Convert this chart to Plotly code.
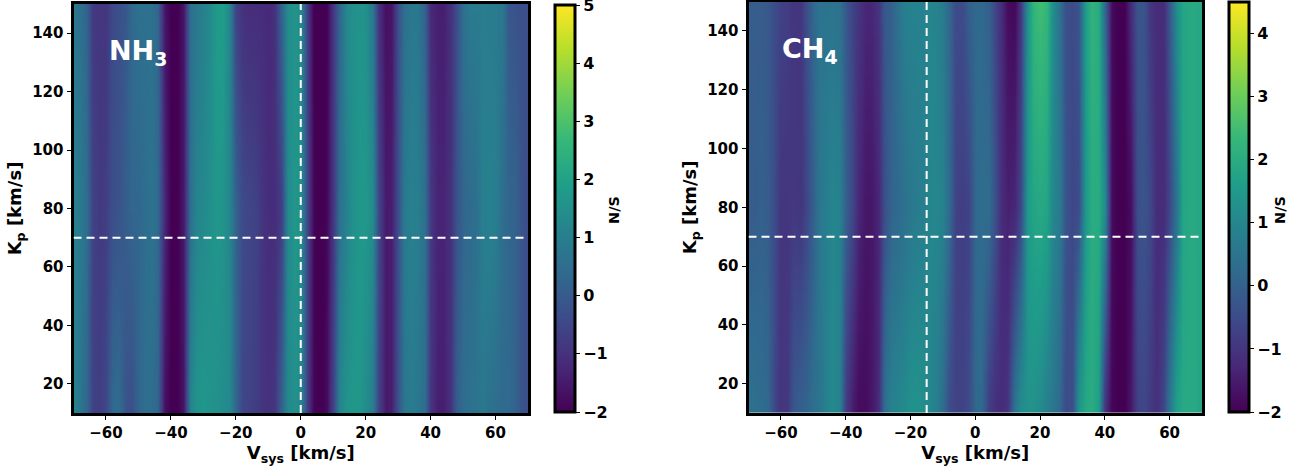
import plotly.graph_objects as go

# Cross-correlation S/N maps in the (Vsys, Kp) plane
VSYS = list(range(-70, 71, 2))          # km/s
KP_ROWS = [10, 80, 150]                 # km/s

NH3_KP10 = [1.1, 0.8, 0.3, -0.6, -0.7, -0.5, 0.4, 0.5, -0.2, -0.3,
            0.3, 0.5, 0.5, 0.3, -1.7, -2.0, -2.0, -1.6, 1.2, 1.6,
            1.7, 1.6, 1.5, 1.4, 1.3, 0.3, -0.5, -0.6, -0.7, -0.9,
            -1.0, -0.9, 0.2, 1.3, 1.5, 1.3, -0.8, -1.9, -2.1, -1.8,
            -0.5, 1.2, 1.6, 1.7, 1.7, 1.4, 1.0, -0.6, -1.5, -1.4,
            -0.1, 0.8, 0.9, 0.8, 0.5, -0.9, -1.4, -1.4, -1.0, 0.1,
            0.5, 0.6, 0.7, 0.8, 0.6, 0.5, 0.4, 0.4, 0.2, -0.2, -0.3]
NH3_KP80 = [1.1, 0.9, 0.5, -0.6, -0.8, -0.7, -0.3, -0.2, 0.1, 0.3,
            0.3, 0.5, 0.7, 0.4, -1.2, -2.0, -2.0, -1.5, 0.6, 1.2,
            1.3, 1.5, 1.7, 1.6, 1.2, 0.2, -0.4, -0.5, -0.6, -0.9,
            -1.1, -1.1, -0.7, 1.3, 1.7, 1.5, -0.6, -1.9, -2.1, -1.9,
            -0.8, 0.6, 1.1, 1.5, 1.7, 1.7, 1.4, -0.5, -1.5, -1.4,
            -0.2, 0.9, 1.1, 1.0, 0.6, -0.8, -1.3, -1.3, -1.0, -0.2,
            0.3, 0.4, 0.6, 1.0, 1.1, 1.0, 0.5, 0.3, 0.2, -0.2, -0.4]
NH3_KP150 = [0.8, 0.6, 0.2, -0.8, -0.9, -0.9, -0.4, -0.3, -0.1, 0.4,
             0.6, 0.6, 0.6, 0.3, -1.6, -2.0, -2.0, -1.6, 0.6, 0.8,
             1.1, 1.3, 1.8, 1.9, 1.2, -0.6, -1.0, -1.1, -1.1, -1.1,
             -1.2, -1.0, 0.3, 1.4, 1.6, 1.4, -0.8, -2.0, -2.1, -2.0,
             -0.8, 0.3, 1.3, 1.5, 1.6, 1.5, 0.8, -1.0, -1.7, -1.6,
             -0.2, 0.6, 0.8, 0.8, 0.2, -1.2, -1.4, -1.4, -1.0, -0.3,
             0.6, 0.9, 0.9, 1.0, 0.9, 0.9, 0.8, -0.1, -0.2, -0.3, -0.3]

CH4_KP10 = [0.4, 0.4, 0.3, 0.2, -0.6, -1.0, -0.9, -0.2, 0.0, 0.1,
            0.4, 0.5, 0.9, 1.1, 0.9, -0.8, -1.5, -1.8, -1.8, -1.6,
            -1.2, 0.4, 0.9, 1.0, 1.1, 1.3, 1.3, 1.2, 1.0, 0.8,
            0.3, -0.5, -0.7, -0.7, -0.5, 0.2, 0.2, -0.8, -1.1, -1.2,
            -1.0, 0.5, 1.2, 1.3, 1.3, 1.1, 0.8, 0.6, 0.2, -0.5,
            -0.4, 1.4, 1.9, 2.0, 1.6, -1.0, -1.9, -2.0, -2.0, -1.6,
            -0.7, -0.6, -0.9, -1.1, -0.6, 0.6, 1.7, 1.9, 1.9, 1.9, 1.7]
CH4_KP80 = [-0.1, -0.1, 0.0, -0.1, -0.5, -1.0, -1.0, -0.9, -1.0, -0.6,
            0.0, 0.6, 0.8, 1.0, 0.9, 0.0, -0.6, -1.3, -1.6, -1.6,
            -1.3, -0.4, 0.1, 0.2, 0.4, 0.6, 0.7, 0.8, 1.0, 1.0,
            0.9, 0.2, -0.7, -0.8, -0.7, 0.2, 0.3, 0.3, -0.3, -1.2,
            -1.4, -1.3, -0.6, 1.5, 1.8, 1.9, 1.8, 1.0, 0.7, -0.3,
            -0.6, -0.5, 1.5, 2.0, 2.0, 1.2, -1.8, -2.0, -2.0, -1.8,
            -0.4, -0.3, -0.6, -1.2, -1.2, -0.6, 0.5, 1.8, 1.9, 1.9, 1.8]
CH4_KP150 = [-0.1, -0.1, -0.1, -0.2, -0.5, -0.7, -0.8, -1.0, -1.0, -0.4,
             0.2, 0.5, 0.5, 0.5, 0.4, -0.2, -0.7, -1.0, -1.3, -1.3,
             -1.0, -0.2, 0.0, 0.4, 0.8, 0.9, 0.9, 0.9, 1.0, 0.9,
             0.7, 0.1, -0.5, -0.5, 0.0, 0.2, 0.2, 0.0, -0.6, -1.2,
             -1.8, -1.9, -1.0, 1.3, 2.3, 2.5, 2.3, 1.2, 0.4, -0.4,
             -0.5, -0.3, 1.6, 2.2, 2.0, 0.2, -1.8, -2.0, -2.0, -1.2,
             -0.3, -0.3, -1.0, -1.2, -1.2, -0.2, 1.2, 1.8, 1.9, 1.9, 1.8]

X_TICKS = [-60, -40, -20, 0, 20, 40, 60]
Y_TICKS = [20, 40, 60, 80, 100, 120, 140]
NH3_CBAR_TICKS = [-2, -1, 0, 1, 2, 3, 4, 5]
CH4_CBAR_TICKS = [-2, -1, 0, 1, 2, 3, 4]
NH3_RANGE = (-2, 5)
CH4_RANGE = (-2, 4.5)
NH3_MARK = dict(vsys=0, kp=70)
CH4_MARK = dict(vsys=-15, kp=70)

W, H = 1309, 467
FONT = "DejaVu Sans"


def px_x(p):
    return p / W


def px_y(p):
    return 1 - p / H


def colorbar(left, top, bottom, ticks):
    return dict(
        x=px_x(left), xanchor="left", xpad=0,
        y=px_y((top + bottom) / 2), yanchor="middle", ypad=0,
        len=(bottom - top) / H, lenmode="fraction",
        thickness=20, thicknessmode="pixels",
        outlinewidth=3, outlinecolor="black",
        ticks="outside", ticklen=4, tickwidth=1.2, tickcolor="black",
        tickvals=ticks, ticklabeloverflow="allow",
        tickfont=dict(family=FONT, size=16, color="black", weight="bold"),
    )


fig = go.Figure()

fig.add_trace(go.Heatmap(
    x=VSYS, y=KP_ROWS, z=[NH3_KP10, NH3_KP80, NH3_KP150],
    colorscale="Viridis", zmin=NH3_RANGE[0], zmax=NH3_RANGE[1],
    zsmooth="best", xaxis="x", yaxis="y",
    colorbar=colorbar(555, 5, 412, NH3_CBAR_TICKS),
))
fig.add_trace(go.Heatmap(
    x=VSYS, y=KP_ROWS, z=[CH4_KP10, CH4_KP80, CH4_KP150],
    colorscale="Viridis", zmin=CH4_RANGE[0], zmax=CH4_RANGE[1],
    zsmooth="best", xaxis="x2", yaxis="y2",
    colorbar=colorbar(1229, 2, 412, CH4_CBAR_TICKS),
))

tick_font = dict(family=FONT, size=15, color="black", weight="bold")
title_font = dict(family=FONT, size=18, color="black", weight="bold")


def xaxis(domain, anchor):
    return dict(
        domain=domain, anchor=anchor, range=[-70, 70], tickvals=X_TICKS,
        ticks="outside", ticklen=4, tickwidth=1.2, tickcolor="black",
        showline=True, linewidth=3, linecolor="black", mirror=True,
        showgrid=False, zeroline=False, automargin=False,
        tickfont=tick_font,
        title=dict(text="V<sub>sys</sub> [km/s]", font=title_font, standoff=3),
    )


def yaxis(domain, anchor):
    return dict(
        domain=domain, anchor=anchor, range=[10, 150], tickvals=Y_TICKS,
        ticks="outside", ticklen=4, tickwidth=1.2, tickcolor="black",
        showline=True, linewidth=3, linecolor="black", mirror=True,
        showgrid=False, zeroline=False, automargin=False,
        tickfont=tick_font,
        title=dict(text="K<sub>p</sub> [km/s]", font=title_font, standoff=6),
    )


fig.update_layout(
    width=W, height=H,
    margin=dict(l=0, r=0, t=0, b=0),
    paper_bgcolor="white", plot_bgcolor="white",
    font=dict(family=FONT, color="black"),
    xaxis=xaxis([px_x(73.5), px_x(528)], "y"),
    yaxis=yaxis([px_y(413), px_y(4)], "x"),
    xaxis2=xaxis([px_x(748.5), px_x(1202)], "y2"),
    yaxis2=yaxis([px_y(413), px_y(1.6)], "x2"),
    showlegend=False,
)

dash = dict(color="white", width=2, dash="8px,5px")
for xr, yr, mark in (("x", "y", NH3_MARK), ("x2", "y2", CH4_MARK)):
    fig.add_shape(type="line", xref=xr, yref=yr, x0=-70, x1=70,
                  y0=mark["kp"], y1=mark["kp"], line=dash)
    fig.add_shape(type="line", xref=xr, yref=yr, x0=mark["vsys"], x1=mark["vsys"],
                  y0=10, y1=150, line=dash)

label_font = dict(family=FONT, size=27, color="white", weight="bold")
fig.add_annotation(text="NH<sub>3</sub>", xref="x", yref="y", x=-50, y=133.5,
                   showarrow=False, font=label_font)
fig.add_annotation(text="CH<sub>4</sub>", xref="x2", yref="y2", x=-51, y=133.5,
                   showarrow=False, font=label_font)

# Colour-bar labels
cbar_font = dict(family=FONT, size=14.5, color="black", weight="bold")
for xpix in (614, 1290):
    fig.add_annotation(text="N/S", xref="paper", yref="paper",
                       x=px_x(xpix), y=px_y(210), textangle=-90,
                       showarrow=False, font=cbar_font)

fig.write_html("out.html")
